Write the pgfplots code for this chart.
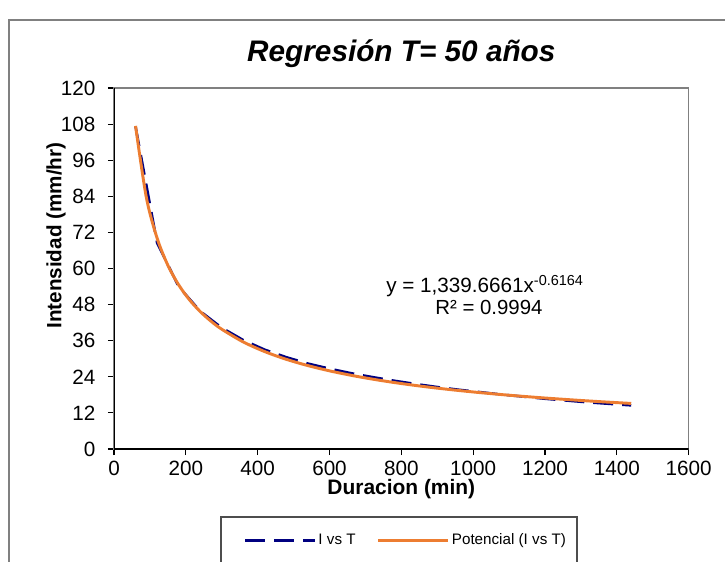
\documentclass[border=0pt]{standalone}
\usepackage{pgfplots}
\pgfplotsset{compat=1.18}
\usepackage{fontspec}
\setmainfont{Liberation Sans}
\definecolor{navyline}{RGB}{0,0,128}
\definecolor{orangeline}{RGB}{237,125,49}
\definecolor{framegray}{RGB}{128,128,128}

\begin{document}
\begin{tikzpicture}
\useasboundingbox (0,0) rectangle (543.75pt,420.75pt);
% chart area frame (cut by the picture edges)
\draw[framegray, line width=1pt] (6.75pt,-10pt) -- (6.75pt,405.75pt) -- (560pt,405.75pt);
% legend box
\draw[framegray!60!black, line width=0.8pt] (165.75pt,-10pt) rectangle (432.75pt,33pt);
\begin{axis}[
  at={(85.5pt,84pt)}, anchor=south west,
  width=431pt, height=270.75pt, scale only axis,
  xmin=0, xmax=1600, ymin=0, ymax=120,
  xtick={0,200,...,1600}, ytick={0,12,...,120},
  tick align=outside, major tick length=4.5pt,
  tick style={black, line width=0.8pt},
  xtick pos=bottom, ytick pos=left,
  axis line style={framegray, line width=1.2pt},
  ticklabel style={font=\fontsize{15.5}{18}\selectfont},
  /pgf/number format/assume math mode=true,
  /pgf/number format/set thousands separator={},
  scaled ticks=false,
  xticklabel style={yshift=-1pt},
  yticklabel style={xshift=-6pt},
  title={\fontsize{22.3}{26}\selectfont\bfseries\itshape Regresión T= 50 años},
  title style={at={(0.5,1)}, anchor=center, yshift=19.5pt},
  xlabel={\bfseries Duracion (min)},
  xlabel style={font=\fontsize{15.7}{18}\selectfont, at={(axis description cs:0.5,-0.11)}, anchor=center},
  ylabel={\bfseries Intensidad (mm/hr)},
  ylabel style={font=\fontsize{15.5}{18}\selectfont, at={(axis description cs:-0.1007,0.591)}, anchor=center},
  legend columns=2,
  legend style={at={(axis description cs:0.2257,-0.2534)}, anchor=west, draw=none, fill=none,
    inner sep=0pt, font=\fontsize{11.4}{13}\selectfont,
    /tikz/every even column/.append style={column sep=14pt}},
  legend image code/.code={\draw[#1] (0pt,0pt) -- (52pt,0pt);},
]
\draw[black, line width=1.2pt] (axis cs:0,120) -- (axis cs:0,0) -- (axis cs:1600,0);
\addplot[navyline, line width=1.9pt, dash pattern=on 15pt off 6.75pt] coordinates {
  (60,107.2) (120,68.5) (180,54.0) (240,45.8) (300,40.3) (360,36.2)
  (420,33.0) (480,30.5) (540,28.4) (600,26.7) (660,25.2) (720,23.9)
  (780,22.7) (840,21.6) (900,20.6) (960,19.7) (1020,18.9) (1080,18.1)
  (1140,17.4) (1200,16.7) (1260,16.1) (1320,15.5) (1380,15.0) (1440,14.5)
};
\addlegendentry{I vs T}
\addplot[orangeline, line width=2.2pt, smooth] coordinates {
  (60,107.4) (90,83.65) (120,70.08) (150,61.06) (180,54.57) (210,49.61)
  (240,45.69) (270,42.49) (300,39.81) (360,35.58) (420,32.36) (480,29.80)
  (540,27.72) (600,25.98) (660,24.50) (720,23.22) (780,22.10) (840,21.11)
  (900,20.23) (960,19.44) (1020,18.73) (1080,18.08) (1140,17.49) (1200,16.95)
  (1260,16.45) (1320,15.98) (1380,15.55) (1440,15.15)
};
\addlegendentry{Potencial (I vs T)}
\node[font=\fontsize{15.5}{18}\selectfont] at (axis cs:1033,54.0) {y = 1,339.6661x\textsuperscript{-0.6164}};
\node[font=\fontsize{15.3}{18}\selectfont] at (axis cs:1044,47.1) {R² = 0.9994};
\end{axis}
\end{tikzpicture}
\end{document}
